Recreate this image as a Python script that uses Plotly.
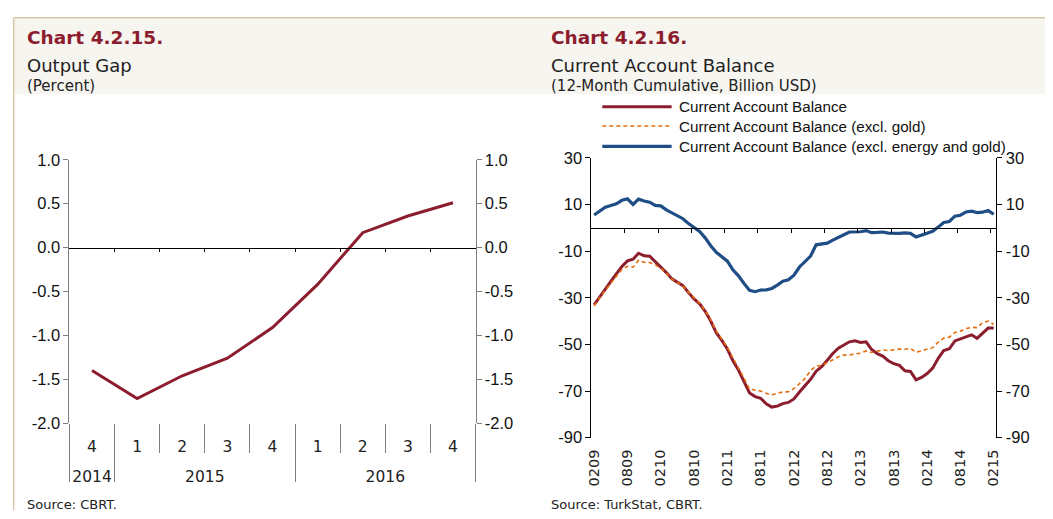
import plotly.graph_objects as go

# ---- data -------------------------------------------------------------
quarters = ["4", "1", "2", "3", "4", "1", "2", "3", "4"]
years = ["2014", "2015", "2016"]
year_centers = [0, 2.5, 6.5]
output_gap = [-1.40, -1.72, -1.46, -1.26, -0.91, -0.42, 0.17, 0.36, 0.51]
gap_ticks = [1.0, 0.5, 0.0, -0.5, -1.0, -1.5, -2.0]

# monthly, 02/2009 .. 02/2015
month_labels = ["0209", "0809", "0210", "0810", "0211", "0811", "0212",
                "0812", "0213", "0813", "0214", "0814", "0215"]
cab = [-33.0, -29.5, -26.2, -23.0, -19.8, -16.6, -14.2, -13.5, -10.9, -12.0,
       -12.2, -14.5, -16.6, -19.2, -21.9, -23.5, -24.8, -27.8, -30.5, -32.6,
       -35.8, -40.0, -45.0, -48.3, -52.0, -57.0, -61.0, -66.0, -70.8, -72.4,
       -73.1, -75.5, -76.9, -76.5, -75.4, -74.9, -73.4, -70.4, -67.5, -65.0,
       -61.5, -59.6, -56.8, -53.9, -51.6, -50.3, -48.9, -48.5, -49.2, -48.9,
       -52.2, -54.0, -55.0, -57.0, -58.3, -59.0, -61.3, -61.6, -65.2, -64.2,
       -62.5, -60.2, -56.0, -52.6, -51.9, -48.5, -47.6, -46.6, -45.9, -47.4,
       -45.3, -43.0, -43.0]
cab_ex_gold = [-33.4, -30.0, -26.8, -23.8, -20.8, -17.8, -16.5, -16.9, -13.9, -14.8,
               -14.9, -15.9, -17.3, -19.4, -22.0, -23.6, -24.9, -27.6, -30.2, -32.4,
               -35.5, -39.5, -44.3, -47.7, -51.2, -55.8, -60.0, -64.5, -69.2, -69.6,
               -70.0, -71.0, -71.7, -71.0, -70.4, -70.3, -69.0, -66.8, -64.6, -61.2,
               -59.3, -59.0, -57.9, -56.6, -55.3, -54.6, -54.5, -54.0, -53.8, -52.8,
               -53.5, -52.9, -52.4, -52.7, -52.3, -52.0, -52.1, -51.7, -53.4, -52.7,
               -52.0, -51.4, -49.0, -47.3, -46.9, -44.9, -44.4, -43.2, -42.7, -42.8,
               -40.7, -40.0, -41.4]
cab_ex_energy_gold = [5.5, 7.2, 8.8, 9.6, 10.3, 11.8, 12.4, 10.0, 12.3, 11.5,
                      11.0, 9.6, 9.4, 7.7, 6.4, 5.0, 3.9, 1.8, 0.2, -1.6,
                      -4.3, -7.7, -10.5, -12.2, -14.3, -18.0, -20.6, -23.9, -26.8, -27.4,
                      -26.7, -26.6, -26.0, -24.6, -22.9, -22.3, -20.3, -16.8, -14.5, -12.1,
                      -7.3, -7.0, -6.6, -5.3, -4.0, -3.0, -1.8, -1.7, -1.7, -1.2,
                      -2.1, -2.0, -1.8, -2.3, -2.4, -2.4, -2.2, -2.4, -3.9, -3.0,
                      -2.3, -1.5, 0.3, 2.3, 2.7, 5.0, 5.4, 6.8, 7.1, 6.5,
                      6.7, 7.4, 5.8]
ca_ticks = [30, 10, -10, -30, -50, -70, -90]
series_names = ["Current Account Balance",
                "Current Account Balance (excl. gold)",
                "Current Account Balance (excl. energy and gold)"]

# ---- style ------------------------------------------------------------
OFF = 8                      # page body margin
W, H = 1053 - OFF, 519 - OFF
RED = "#8C1D2E"
ORANGE = "#E46C0A"
BLUE = "#1F4E86"
TAN = "#D6C8A8"
BAND = "#F7F5F0"
GRAY = "#7F7F7F"
HEAD = "DejaVu Sans"
ARIAL = "Liberation Sans"


def fx(p):
    return (p - OFF) / W


def fy(p):
    return 1 - (p - OFF) / H


# plot boxes in screen pixels (left, right, top, bottom)
L = (65, 475, 156, 429)
R = (592, 1001, 154, 444)
l_zero = L[2] + 1 / 3 * (L[3] - L[2])
r_zero = R[2] + 30 / 120 * (R[3] - R[2])

gap_x = list(range(len(output_gap)))
months = list(range(len(cab)))
fig = go.Figure()
fig.add_trace(go.Scatter(x=gap_x, y=output_gap, mode="lines",
                         line=dict(color=RED, width=3), xaxis="x", yaxis="y"))
# invisible copies so the helper axes get drawn
for xa in ["x2", "x3", "x4", "x5"]:
    fig.add_trace(go.Scatter(x=gap_x, y=output_gap, mode="lines", opacity=0,
                             hoverinfo="skip", xaxis=xa, yaxis="y2"))
for vals, col, dash, wd in [(cab, RED, "solid", 3),
                            (cab_ex_gold, ORANGE, "4px,3px", 1.6),
                            (cab_ex_energy_gold, BLUE, "solid", 3.2)]:
    fig.add_trace(go.Scatter(x=months, y=vals, mode="lines",
                             line=dict(color=col, width=wd, dash=dash),
                             xaxis="x6", yaxis="y3"))
fig.add_trace(go.Scatter(x=months, y=cab, mode="lines", opacity=0,
                         hoverinfo="skip", xaxis="x7", yaxis="y4"))

ldom = [fx(L[0]), fx(L[1])]
rdom = [fx(R[0]), fx(R[1])]
base = dict(showgrid=False, zeroline=False, fixedrange=True)
gap_range = [-0.5, len(quarters) - 0.5]
mon_range = [-0.5, len(cab) - 0.5]
tick_font = dict(family=ARIAL, size=16.5, color="#111")
cat_font = dict(family=HEAD, size=15.5, color="#222")

fig.update_layout(
    width=W, height=H, margin=dict(l=0, r=0, t=0, b=0),
    paper_bgcolor="white", plot_bgcolor="rgba(0,0,0,0)", showlegend=False,
    # ---- left chart
    xaxis=dict(base, domain=ldom, anchor="y", range=gap_range,
               tickvals=gap_x, ticktext=quarters, ticks="",
               showline=False, ticklabelstandoff=12, tickfont=cat_font),
    xaxis2=dict(base, domain=ldom, overlaying="x", anchor="free", position=fy(l_zero),
                range=gap_range, tickvals=[i + 0.5 for i in gap_x[:-1]],
                ticks="outside", ticklen=3, tickcolor="black", showline=True,
                linecolor="black", linewidth=1, showticklabels=False),
    xaxis3=dict(base, domain=ldom, overlaying="x", anchor="free", position=fy(L[3]),
                range=gap_range, tickvals=year_centers, ticktext=years, ticks="",
                ticklabelstandoff=42, showline=False, tickfont=cat_font),
    xaxis4=dict(base, domain=ldom, overlaying="x", anchor="free", position=fy(L[3]),
                range=gap_range, tickvals=[1.5, 2.5, 3.5, 5.5, 6.5, 7.5],
                ticks="outside", ticklen=29, tickcolor=GRAY, showline=False,
                showticklabels=False),
    xaxis5=dict(base, domain=ldom, overlaying="x", anchor="free", position=fy(L[3]),
                range=gap_range, tickvals=[-0.499, 0.5, 4.5, 8.499],
                ticks="outside", ticklen=58, tickcolor=GRAY, showline=False,
                showticklabels=False),
    yaxis=dict(base, domain=[fy(L[3]), fy(L[2])], anchor="x", range=[-2, 1],
               tickvals=gap_ticks, ticktext=[f"{v:.1f}" for v in gap_ticks],
               ticks="outside", ticklen=5, tickcolor=GRAY, showline=True,
               linecolor=GRAY, tickfont=tick_font),
    yaxis2=dict(base, domain=[fy(L[3]), fy(L[2])], anchor="x", overlaying="y",
                side="right", range=[-2, 1],
                tickvals=gap_ticks, ticktext=[f"{v:.1f}" for v in gap_ticks],
                ticks="outside", ticklen=5, tickcolor=GRAY, showline=True,
                linecolor=GRAY, tickfont=tick_font),
    # ---- right chart
    xaxis6=dict(base, domain=rdom, anchor="y3", range=mon_range,
                tickvals=months[::6], ticktext=month_labels,
                tickangle=-90, ticks="", showline=False, ticklabelstandoff=8,
                tickfont=dict(family=HEAD, size=14.5, color="#222")),
    xaxis7=dict(base, domain=rdom, overlaying="x6", anchor="free", position=fy(r_zero),
                range=mon_range, tickvals=[m - 0.5 for m in months[6::6]],
                ticks="outside", ticklen=4, tickcolor="black",
                showline=True, linecolor="black", linewidth=1, showticklabels=False),
    yaxis3=dict(base, domain=[fy(R[3]), fy(R[2])], anchor="x6", range=[-90, 30],
                tickvals=ca_ticks, ticktext=[str(v) for v in ca_ticks],
                ticks="outside", ticklen=5, tickcolor="black", showline=True,
                linecolor="black", tickfont=tick_font),
    yaxis4=dict(base, domain=[fy(R[3]), fy(R[2])], anchor="x6", overlaying="y3",
                side="right", range=[-90, 30],
                tickvals=ca_ticks, ticktext=[str(v) for v in ca_ticks],
                ticks="outside", ticklen=5, tickcolor="black", showline=True,
                linecolor="black", tickfont=tick_font),
)

# header band and frame lines
shapes = [
    dict(type="rect", xref="paper", yref="paper", x0=fx(8.5), x1=1, y0=fy(88), y1=fy(9),
         fillcolor=BAND, line=dict(width=0), layer="below"),
    dict(type="line", xref="paper", yref="paper", x0=fx(8.7), x1=1, y0=fy(8.7), y1=fy(8.7),
         line=dict(color=TAN, width=1.5)),
    dict(type="line", xref="paper", yref="paper", x0=fx(8.7), x1=fx(8.7), y0=0, y1=fy(8.7),
         line=dict(color=TAN, width=1.5)),
]
# hand-made legend (long line samples)
leg_rows = [101, 121, 142]
for row, col, dash, wd in zip(leg_rows, [RED, ORANGE, BLUE],
                              ["solid", "4px,3px", "solid"], [3, 1.6, 3.2]):
    shapes.append(dict(type="line", xref="paper", yref="paper", x0=fx(603), x1=fx(673),
                       y0=fy(row), y1=fy(row), line=dict(color=col, width=wd, dash=dash)))
fig.update_layout(shapes=shapes)

ann = []


def text(x, y, s, size, color="#222", family=HEAD):
    ann.append(dict(xref="paper", yref="paper", x=fx(x), y=fy(y), text=s,
                    showarrow=False, xanchor="left", yanchor="middle",
                    font=dict(family=family, size=size, color=color)))


text(20, 29, "<b>Chart 4.2.15.</b>", 18.5, RED)
text(20, 58, "Output Gap", 18)
text(20, 80, "(Percent)", 15)
text(549, 29, "<b>Chart 4.2.16.</b>", 18.5, RED)
text(549, 58, "Current Account Balance", 18)
text(549, 80, "(12-Month Cumulative, Billion USD)", 15)
for row, name in zip(leg_rows, series_names):
    text(678, row, name, 15.2, "#111", ARIAL)
text(20, 513, "Source: CBRT.", 13)
text(549, 513, "Source: TurkStat, CBRT.", 13)
fig.update_layout(annotations=ann)

fig.write_html("out.html")
